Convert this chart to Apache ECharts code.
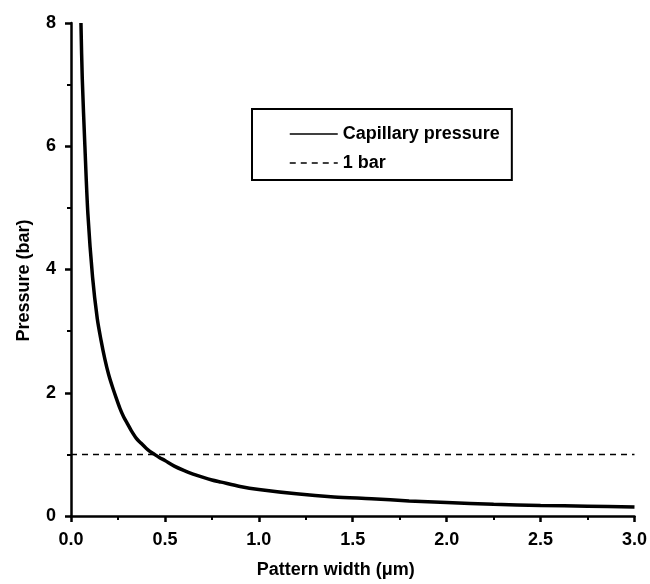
<!DOCTYPE html>
<html><head><meta charset="utf-8">
<script src="https://cdn.jsdelivr.net/npm/echarts@6/dist/echarts.min.js"></script>
<style>html,body{margin:0;padding:0;background:#fff}#c{width:650px;height:584px}</style>
</head><body><div id="c"></div>
<script>
const widths = [0.053,0.06,0.074,0.09,0.115,0.14,0.16,0.18,0.2,0.22,0.24,0.26,0.28,0.3,0.32,0.348,0.37,0.4,0.42,0.445,0.47,0.5,0.55,0.6,0.65,0.7,0.75,0.8,0.9,1.0,1.2,1.4,1.6,1.8,2.0,2.25,2.5,2.75,3.0];
const pressure = [8.0,7.1,6.0,4.9,3.87,3.2,2.85,2.55,2.3,2.1,1.92,1.75,1.61,1.5,1.39,1.26,1.19,1.1,1.05,1.0,0.95,0.9,0.81,0.74,0.68,0.63,0.585,0.55,0.48,0.43,0.36,0.31,0.28,0.245,0.22,0.19,0.17,0.16,0.145];
const refX = [0, 3.0];
const refY = [1, 1];
const xTicks = {min:0, max:3, interval:0.5};
const yTicks = {min:0, max:8, interval:2};
const seriesNames = ['Capillary pressure', '1 bar'];

const FONT = 'Liberation Sans, Arial, sans-serif';
const chart = echarts.init(document.getElementById('c'));
chart.setOption({
  animation:false,
  backgroundColor:'#fff',
  color:['#000','#000'],
  grid:{left:71,right:13,top:23,bottom:63},
  legend:{
    show:true,
    orient:'vertical', left:252, top:109,
    padding:[16,12,8,37],
    borderColor:'#000', borderWidth:2,
    itemWidth:48, itemHeight:20, itemGap:11,
    textStyle:{fontFamily:FONT,fontWeight:'bold',fontSize:18,color:'#000'},
    itemStyle:{opacity:0},
    lineStyle:{width:1.5},
    data:seriesNames
  },
  xAxis:{
    type:'value', min:xTicks.min, max:xTicks.max, interval:xTicks.interval,
    name:'Pattern width (μm)', nameLocation:'middle', nameGap:45,
    nameTextStyle:{fontFamily:FONT,fontWeight:'bold',fontSize:18,color:'#000',padding:[0,34,0,0]},
    axisLine:{show:true,onZero:false,lineStyle:{color:'#000',width:2.5}},
    axisTick:{show:true,inside:false,length:6,lineStyle:{color:'#000',width:2.5}},
    minorTick:{show:true,splitNumber:2,length:4,lineStyle:{color:'#000',width:2}},
    splitLine:{show:false},
    axisLabel:{fontFamily:FONT,fontWeight:'bold',fontSize:18,color:'#000',margin:15,
      formatter:v=>v.toFixed(1)}
  },
  yAxis:{
    type:'value', min:yTicks.min, max:yTicks.max, interval:yTicks.interval,
    name:'Pressure (bar)', nameLocation:'middle', nameGap:38, nameRotate:90,
    nameTextStyle:{fontFamily:FONT,fontWeight:'bold',fontSize:18,color:'#000',padding:[0,22,0,0]},
    axisLine:{show:true,onZero:false,lineStyle:{color:'#000',width:2.5}},
    axisTick:{show:true,inside:false,length:6,lineStyle:{color:'#000',width:2.5}},
    minorTick:{show:true,splitNumber:2,length:4,lineStyle:{color:'#000',width:2}},
    splitLine:{show:false},
    axisLabel:{fontFamily:FONT,fontWeight:'bold',fontSize:18,color:'#000',margin:15}
  },
  series:[
    {name:seriesNames[0], type:'line', smooth:0.3, symbol:'none', clip:true,
     itemStyle:{color:'#000'},
     data:widths.map((w,i)=>[w,pressure[i]]),
     lineStyle:{color:'#000',width:3.5}},
    {name:seriesNames[1], type:'line', symbol:'none',
     itemStyle:{color:'#000'},
     data:refX.map((x,i)=>[x,refY[i]]),
     lineStyle:{color:'#000',width:1.5,type:[6,5]}}
  ]
});
</script></body></html>
